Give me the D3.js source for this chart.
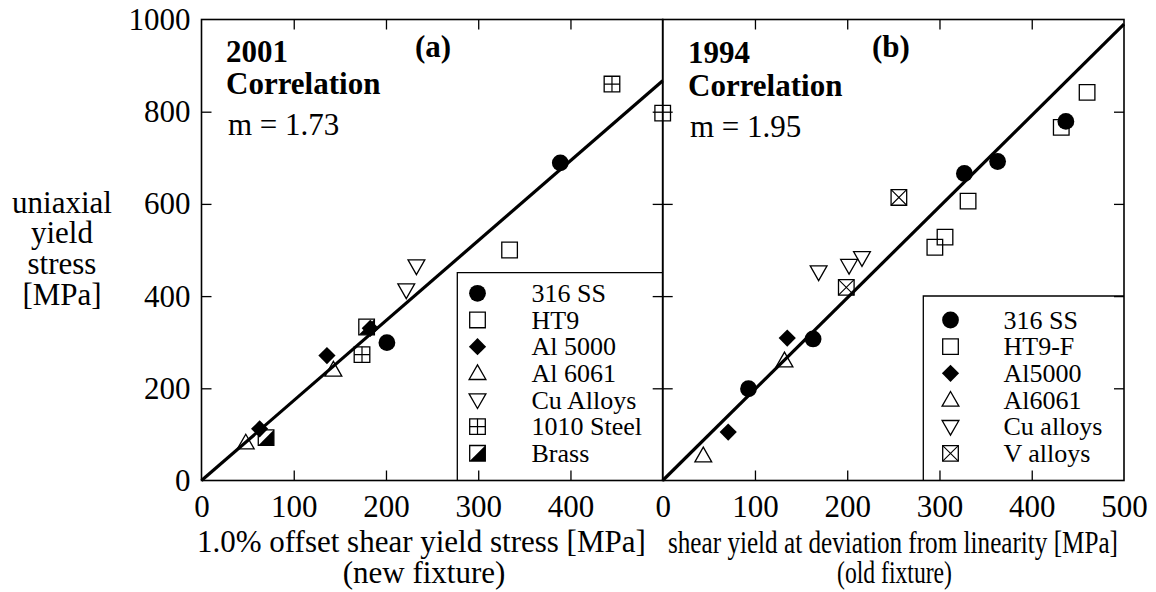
<!DOCTYPE html>
<html><head><meta charset="utf-8">
<script src="https://cdn.jsdelivr.net/npm/d3@7"></script>
<style>
html,body{margin:0;padding:0;background:#fff;}
svg, svg text{font-family:"Times New Roman","Liberation Serif",Times,serif !important;}
</style></head>
<body>
<svg id="c" width="1156" height="592"></svg>
<script>
// ---------- data ----------
const xTicksA = [0, 100, 200, 300, 400];
const xTicksB = [0, 100, 200, 300, 400, 500];
const yTicks = [0, 200, 400, 600, 800, 1000];
const innerTicksX = [100, 200, 300, 400];
const innerTicksY = [200, 400, 600, 800];

// panel (a) 2001 correlation, new fixture
const seriesA = ["316 SS", "HT9", "Al 5000", "Al 6061", "Cu Alloys", "1010 Steel", "Brass"];
const a316 = [[389, 689], [201, 299]];
const aHT9 = [[500, 797], [334, 500]];
const aAl5000 = [[136, 271], [183, 330], [63, 112]];
const aAl6061 = [[143, 240], [48, 82]];
const aCu = [[233, 465], [222, 413]];
const a1010 = [[445, 860], [174, 273]];
const aBrass = [[179, 333], [70, 93]];
const lineA = [[0, 0], [500, 867]];

// panel (b) 1994 correlation, old fixture
const seriesB = ["316 SS", "HT9-F", "Al5000", "Al6061", "Cu alloys", "V alloys"];
const b316 = [[437, 779], [363, 692], [327, 666], [163, 307], [93, 199]];
const bHT9 = [[460, 842], [432, 766], [331, 606], [306, 528], [295, 506]];
const bAl5000 = [[135, 309], [71, 105]];
const bAl6061 = [[132, 260], [44, 54]];
const bCu = [[169, 452], [202, 466], [216, 483]];
const bV = [[256, 614], [199, 419]];
const lineB = [[0, 0], [500, 990]];

// ---------- layout ----------
const FONT = "'Times New Roman', 'Liberation Serif', Times, serif";
const svg = d3.select("#c").attr("font-family", FONT);
const y = d3.scaleLinear([0, 1000], [480.5, 19.5]);
const xA = d3.scaleLinear([0, 500], [201.5, 662.7]);
const xB = d3.scaleLinear([0, 500], [662.7, 1124]);
const FS = 31;

function markerPath(type) {
  const h = 7.8, d = 8.6;
  switch (type) {
    case "diamond": return `M0,${-d}L${d},0L0,${d}L${-d},0Z`;
    case "triUp": return `M0,-8.5L8.4,6.2L-8.4,6.2Z`;
    case "triDown": return `M0,8.5L8.4,-6.2L-8.4,-6.2Z`;
    default: return `M${-h},${-h}H${h}V${h}H${-h}Z`;
  }
}
function drawMarker(g, type, cx, cy) {
  const m = g.append("g").attr("transform", `translate(${cx},${cy})`);
  const h = 7.8;
  if (type === "circle") {
    m.append("circle").attr("r", 8.4).attr("fill", "#000");
    return;
  }
  if (type === "diamond") {
    m.append("path").attr("d", markerPath("diamond")).attr("fill", "#000");
    return;
  }
  const base = (type === "triUp" || type === "triDown") ? type : "square";
  m.append("path").attr("d", markerPath(base)).attr("fill", "none")
    .attr("stroke", "#000").attr("stroke-width", 1.3);
  if (type === "squarePlus") {
    m.append("path").attr("d", `M0,${-h}V${h}M${-h},0H${h}`).attr("stroke", "#000").attr("stroke-width", 1.2);
  } else if (type === "squareX") {
    m.append("path").attr("d", `M${-h},${-h}L${h},${h}M${-h},${h}L${h},${-h}`).attr("stroke", "#000").attr("stroke-width", 1.1);
  } else if (type === "squareHalf") {
    m.append("path").attr("d", `M${-h},${h}L${h},${-h}L${h},${h}Z`).attr("fill", "#000");
  }
}

function panel(x, xTickLabels, leftTicks) {
  const g = svg.append("g");
  const [x0, x1] = x.range();
  const [yb, yt] = y.range();
  g.append("g").attr("transform", `translate(0,${yb})`)
    .call(d3.axisBottom(x).tickValues(innerTicksX).tickSize(-10).tickFormat(""))
    .call(s => s.select(".domain").remove());
  g.append("g").attr("transform", `translate(0,${yt})`)
    .call(d3.axisTop(x).tickValues(innerTicksX).tickSize(-10).tickFormat(""))
    .call(s => s.select(".domain").remove());
  g.append("g").attr("transform", `translate(${x0},0)`)
    .call(d3.axisLeft(y).tickValues(innerTicksY).tickSize(-10).tickFormat(""))
    .call(s => s.select(".domain").remove());
  g.append("g").attr("transform", `translate(${x1},0)`)
    .call(d3.axisRight(y).tickValues(innerTicksY).tickSize(-10).tickFormat(""))
    .call(s => s.select(".domain").remove());
  g.selectAll(".tick line").attr("stroke", "#000").attr("stroke-width", 1.3);
  g.append("rect").attr("x", x0).attr("y", yt).attr("width", x1 - x0).attr("height", yb - yt)
    .attr("fill", "none").attr("stroke", "#000").attr("stroke-width", 1.6);
  const xl = g.append("g").attr("transform", `translate(0,${yb})`)
    .call(d3.axisBottom(x).tickValues(xTickLabels).tickSize(0).tickPadding(14.5).tickFormat(d3.format("d")));
  xl.select(".domain").remove();
  xl.attr("font-family", FONT).attr("font-size", FS);
  xl.selectAll("text").attr("fill", "#000");
  if (leftTicks) {
    const yl = g.append("g").attr("transform", `translate(${x0},0)`)
      .call(d3.axisLeft(y).tickValues(yTicks).tickSize(0).tickPadding(11).tickFormat(d3.format("d")));
    yl.select(".domain").remove();
    yl.attr("font-family", FONT).attr("font-size", FS);
    yl.selectAll("text").attr("fill", "#000");
  }
  return g;
}

panel(xA, xTicksA, true);
panel(xB, xTicksB, false);

function drawSeries(g, x, pts, type) {
  pts.forEach(p => drawMarker(g, type, x(p[0]), y(p[1])));
}
function drawFit(g, x, pts) {
  g.append("path").datum(pts)
    .attr("d", d3.line().x(d => x(d[0])).y(d => y(d[1])))
    .attr("fill", "none").attr("stroke", "#000").attr("stroke-width", 3.2);
}

const mA = svg.append("g");
drawSeries(mA, xA, aHT9, "square");
drawSeries(mA, xA, a1010, "squarePlus");
drawSeries(mA, xA, aBrass, "squareHalf");
drawSeries(mA, xA, aAl6061, "triUp");
drawSeries(mA, xA, aCu, "triDown");
drawSeries(mA, xA, aAl5000, "diamond");
drawSeries(mA, xA, a316, "circle");
drawFit(mA, xA, lineA);

const mB = svg.append("g");
drawSeries(mB, xB, bHT9, "square");
drawSeries(mB, xB, bV, "squareX");
drawSeries(mB, xB, bAl6061, "triUp");
drawSeries(mB, xB, bCu, "triDown");
drawSeries(mB, xB, bAl5000, "diamond");
drawSeries(mB, xB, b316, "circle");
drawFit(mB, xB, lineB);

function legend(x0, yTop, x1, yBot, names, types, symX, textX, firstY, step) {
  const g = svg.append("g");
  g.append("path").attr("d", `M${x1},${yTop}H${x0}V${yBot}`)
    .attr("fill", "none").attr("stroke", "#000").attr("stroke-width", 1.3);
  names.forEach((n, i) => {
    const cy = firstY + i * step;
    drawMarker(g, types[i], symX, cy);
    g.append("text").attr("x", textX).attr("y", cy).attr("dy", "0.33em")
      .attr("font-size", 26).attr("fill", "#000").text(n);
  });
}
legend(457.3, 272.7, 662.7, 480.5, seriesA,
  ["circle", "square", "diamond", "triUp", "triDown", "squarePlus", "squareHalf"],
  477.5, 531.5, 293.3, 26.67);
legend(923.3, 296, 1124, 480.5, seriesB,
  ["circle", "square", "diamond", "triUp", "triDown", "squareX"],
  950.5, 1003.5, 320, 26.67);

function txt(x, yy, s, opts = {}) {
  const t = svg.append("text").attr("x", x).attr("y", yy).attr("font-size", opts.fs || FS)
    .attr("fill", "#000").text(s);
  if (opts.bold) t.attr("font-weight", "bold");
  if (opts.anchor) t.attr("text-anchor", opts.anchor);
  if (opts.len) t.attr("textLength", opts.len).attr("lengthAdjust", "spacingAndGlyphs");
  return t;
}
txt(226, 61.7, "2001", {bold: true});
txt(226, 94.3, "Correlation", {bold: true});
txt(228, 135, "m = 1.73");
txt(415, 56.7, "(a)", {bold: true});
txt(688, 63, "1994", {bold: true});
txt(688, 96, "Correlation", {bold: true});
txt(690, 137, "m = 1.95");
txt(872, 57, "(b)", {bold: true});

const yTitle = ["uniaxial", "yield", "stress", "[MPa]"];
const yTitleBase = [212.5, 243, 273.6, 305];
yTitle.forEach((s, i) => txt(62, yTitleBase[i], s, {anchor: "middle"}));

txt(197, 552, "1.0% offset shear yield stress [MPa]");
txt(424, 583, "(new fixture)", {anchor: "middle"});
txt(668, 553, "shear yield at deviation from linearity [MPa]", {len: 450});
txt(837, 583, "(old fixture)", {len: 115});
</script>
</body></html>
